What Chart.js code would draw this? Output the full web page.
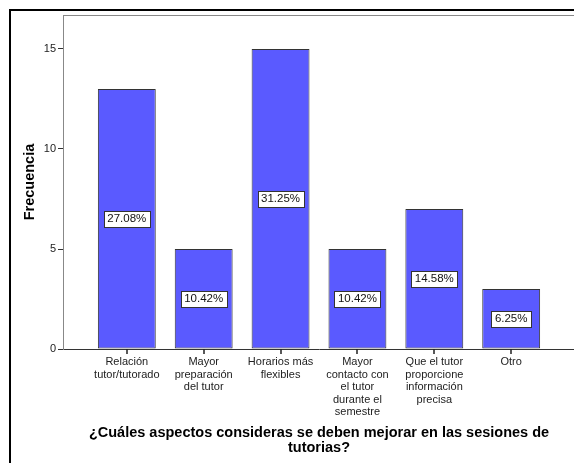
<!DOCTYPE html>
<html>
<head>
<meta charset="UTF-8">
<title>Aspectos a mejorar en las tutorías</title>
<script src="https://cdn.jsdelivr.net/npm/chart.js"></script>
<style>
  html, body { margin: 0; padding: 0; background: #fff; overflow: hidden; }
  #wrap { position: relative; width: 574px; height: 463px; overflow: hidden; }
  #frame { position: absolute; left: 9px; top: 9px; width: 700px; height: 600px; border-left: 2px solid #000; border-top: 2px solid #000; pointer-events: none; }
  canvas { position: absolute; left: 0; top: 0; }
</style>
</head>
<body>
<div id="wrap">
  <canvas id="chart" width="576" height="463"></canvas>
  <div id="frame"></div>
</div>
<script>
// datos del gráfico
const categorias = [
  ['Relación', 'tutor/tutorado'],
  ['Mayor', 'preparación', 'del tutor'],
  ['Horarios más', 'flexibles'],
  ['Mayor', 'contacto con', 'el tutor', 'durante el', 'semestre'],
  ['Que el tutor', 'proporcione', 'información', 'precisa'],
  ['Otro']
];
const frecuencias = [13, 5, 15, 5, 7, 3];
const porcentajes = ['27.08%', '10.42%', '31.25%', '10.42%', '14.58%', '6.25%'];
const ticksY = [0, 5, 10, 15];
const tituloX = ['¿Cuáles aspectos consideras se deben mejorar en las sesiones de', 'tutorias?'];
const tituloY = 'Frecuencia';

const fuente = '"Liberation Sans", Arial, sans-serif';
Chart.defaults.font.family = fuente;

// marco gris del área de trazado y marcas del eje x
const marco = {
  id: 'marco',
  beforeDatasetsDraw(chart) {
    const {ctx, chartArea: a} = chart;
    const sx = chart.scales.x;
    ctx.save();
    ctx.strokeStyle = '#888';
    ctx.lineWidth = 1;
    ctx.beginPath();
    ctx.moveTo(a.left + 0.5, a.bottom);
    ctx.lineTo(a.left + 0.5, a.top + 0.5);
    ctx.lineTo(a.right - 0.5, a.top + 0.5);
    ctx.lineTo(a.right - 0.5, a.bottom);
    ctx.stroke();
    ctx.strokeStyle = '#222';
    ctx.lineWidth = 1.5;
    ctx.beginPath();
    sx.ticks.forEach((t, i) => {
      const px = Math.round(sx.getPixelForTick(i));
      ctx.moveTo(px, a.bottom);
      ctx.lineTo(px, a.bottom + 5);
    });
    ctx.stroke();
    ctx.restore();
  }
};

// etiquetas de porcentaje dentro de las barras
const etiquetas = {
  id: 'etiquetas',
  afterDatasetsDraw(chart) {
    const ctx = chart.ctx;
    const meta = chart.getDatasetMeta(0);
    ctx.save();
    ctx.font = '11.5px ' + fuente;
    ctx.textAlign = 'center';
    ctx.textBaseline = 'middle';
    meta.data.forEach((bar, i) => {
      const txt = porcentajes[i];
      const cy = (bar.y + bar.base) / 2;
      const w = Math.round(ctx.measureText(txt).width) + 7;
      const h = 16;
      const x0 = Math.round(bar.x - w / 2) + 0.5;
      const y0 = Math.round(cy - h / 2) + 0.5;
      ctx.fillStyle = '#fff';
      ctx.fillRect(x0, y0, w, h);
      ctx.strokeStyle = '#333';
      ctx.lineWidth = 1;
      ctx.strokeRect(x0, y0, w, h);
      ctx.fillStyle = '#111';
      ctx.fillText(txt, bar.x, cy + 0.5);
    });
    ctx.restore();
  }
};

new Chart(document.getElementById('chart'), {
  type: 'bar',
  data: {
    datasets: [{
      data: frecuencias.map((v, i) => ({x: i, y: v})),
      backgroundColor: '#5a5aff',
      borderColor: '#333',
      borderWidth: 1,
      borderSkipped: false,
      barPercentage: 0.753,
      categoryPercentage: 1
    }]
  },
  options: {
    responsive: false,
    animation: false,
    layout: { padding: { left: 15, top: 15, right: 1, bottom: 0 } },
    plugins: { legend: { display: false }, tooltip: { enabled: false } },
    scales: {
      x: {
        type: 'linear',
        offset: false,
        min: -0.83,
        max: 5.83,
        afterBuildTicks: s => { s.ticks = categorias.map((_, i) => ({ value: i })); },
        afterFit: s => { s.height = 114; },
        grid: { display: false, drawTicks: false },
        border: { display: true, color: '#333', width: 1 },
        ticks: {
          callback: v => categorias[v],
          color: '#222',
          padding: 7,
          maxRotation: 0,
          autoSkip: false,
          font: { size: 11, lineHeight: '12.5px' }
        },
        title: {
          display: true,
          text: tituloX,
          color: '#000',
          font: { size: 14.5, weight: 'bold', lineHeight: '15px' },
          padding: { top: 0, bottom: 7.5 }
        }
      },
      y: {
        min: 0,
        max: 16.7,
        afterBuildTicks: s => { s.ticks = ticksY.map(v => ({ value: v })); },
        afterFit: s => { s.width = 48; },
        grid: { drawOnChartArea: false, drawTicks: true, tickLength: 5, tickColor: '#333' },
        border: { display: true, color: '#888', width: 1 },
        ticks: { color: '#222', padding: 2, font: { size: 11 } },
        title: {
          display: true,
          text: tituloY,
          color: '#000',
          font: { size: 14.5, weight: 'bold', lineHeight: '15px' },
          padding: { top: 7.5, bottom: 0 }
        }
      }
    }
  },
  plugins: [marco, etiquetas]
});
</script>
</body>
</html>
